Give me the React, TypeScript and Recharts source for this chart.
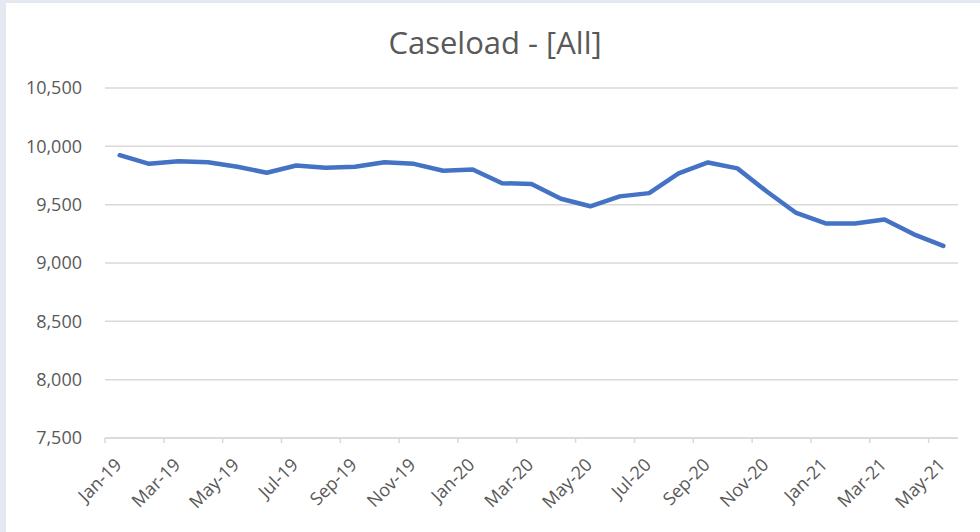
import React from "react";
import { LineChart, Line, XAxis, YAxis, CartesianGrid } from "recharts";

const months = [
  "Jan-19", "Feb-19", "Mar-19", "Apr-19", "May-19", "Jun-19", "Jul-19", "Aug-19", "Sep-19", "Oct-19", "Nov-19", "Dec-19",
  "Jan-20", "Feb-20", "Mar-20", "Apr-20", "May-20", "Jun-20", "Jul-20", "Aug-20", "Sep-20", "Oct-20", "Nov-20", "Dec-20",
  "Jan-21", "Feb-21", "Mar-21", "Apr-21", "May-21",
];

const caseload = [
  9924, 9850, 9873, 9864, 9825, 9774, 9836, 9816, 9825, 9864, 9850, 9791,
  9802, 9684, 9677, 9551, 9486, 9571, 9599, 9768, 9862, 9811, 9613, 9429,
  9339, 9339, 9373, 9246, 9147,
];

const yTicks = [7500, 8000, 8500, 9000, 9500, 10000, 10500];

const title = "Caseload - [All]";

const data = months.map((m, i) => ({ month: m, value: caseload[i] }));

const FONT = "'Open Sans', 'DejaVu Sans', sans-serif";
const TEXT_COLOR = "#595959";
const GRID_COLOR = "#d9d9d9";
const HALF_BAND = 14.7;

const XTick = (props: any) => {
  const { x, y, payload } = props;
  return (
    <g>
      <line x1={x - HALF_BAND} y1={y} x2={x - HALF_BAND} y2={y + 5} stroke={GRID_COLOR} strokeWidth={1.5} />
      <text
        transform={`translate(${x + 3},${y + 28}) rotate(-45)`}
        textAnchor="end"
        fill={TEXT_COLOR}
        fontSize={18}
        fontFamily={FONT}
      >
        {payload.value}
      </text>
    </g>
  );
};

export default function App() {
  return (
    <div style={{ position: "fixed", left: 0, top: 0, width: 980, height: 532, background: "#e3e8f1" }}>
      <div style={{ position: "absolute", left: 6, top: 3, width: 974, height: 529, background: "#ffffff" }} />
      <div style={{ position: "absolute", left: 0, top: 0 }}>
        <LineChart
          width={980}
          height={532}
          data={data}
          margin={{ top: 88, right: 22, bottom: 14, left: 0 }}
        >
          <CartesianGrid vertical={false} stroke={GRID_COLOR} strokeWidth={1.5} />
          <XAxis
            dataKey="month"
            interval={1}
            padding={{ left: HALF_BAND, right: HALF_BAND }}
            axisLine={{ stroke: GRID_COLOR, strokeWidth: 1.5 }}
            tickLine={false}
            tickSize={0}
            tickMargin={0}
            height={80}
            tick={<XTick />}
          />
          <YAxis
            domain={[7500, 10500]}
            ticks={yTicks}
            width={105}
            axisLine={false}
            tickLine={false}
            tickSize={0}
            tickMargin={23}
            interval={0}
            tick={{ fill: TEXT_COLOR, fontSize: 18, fontFamily: FONT }}
            tickFormatter={(v: number) => v.toLocaleString("en-US")}
          />
          <Line
            type="linear"
            dataKey="value"
            stroke="#4472c4"
            strokeWidth={4.5}
            dot={false}
            activeDot={false}
            isAnimationActive={false}
            strokeLinejoin="round"
            strokeLinecap="round"
          />
        </LineChart>
      </div>
      <svg style={{ position: "absolute", left: 0, top: 0 }} width={980} height={80}>
        <text x={495} y={54} textAnchor="middle" fill={TEXT_COLOR} fontSize={31} fontFamily={FONT}>
          {title}
        </text>
      </svg>
    </div>
  );
}
